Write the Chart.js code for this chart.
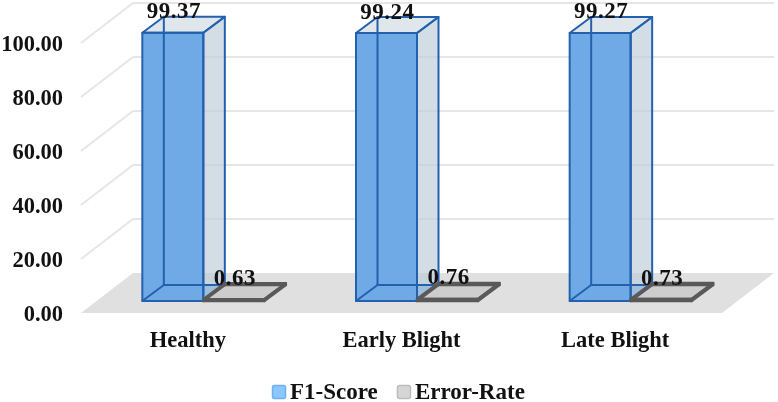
<!DOCTYPE html>
<html>
<head>
<meta charset="utf-8">
<style>
  html, body { margin: 0; background: #ffffff; }
  #wrap { width: 778px; height: 402px; }
</style>
<script src="https://cdn.jsdelivr.net/npm/chart.js@4/dist/chart.umd.js"></script>
</head>
<body>
<div id="wrap"><canvas id="chart" width="778" height="402"></canvas></div>
<script>
const categories = ["Healthy", "Early Blight", "Late Blight"];
const f1Score = [99.37, 99.24, 99.27];
const errorRate = [0.63, 0.76, 0.73];

const VALUE_FONT = "bold 23px 'Liberation Serif'";
const LEGEND_FONT = "bold 23px 'Liberation Serif'";
const AXIS_FONT = {family: "'Liberation Serif'", size: 22.5, weight: "bold"};
const TEXT = "#111111";

// the y tick labels sit a little below the wall lines they belong to
const TICK_DROP = 2;

// floor and wall depth, then where the bars sit inside that depth
const WALL_DX = 52, WALL_DY = -40;
const BAR_SHIFT_X = 15.5, BAR_SHIFT_Y = -12 - TICK_DROP;
const BAR_DX = 21.5, BAR_DY = -16;

function polygon(ctx, pts, fill, stroke, lineWidth) {
  ctx.beginPath();
  pts.forEach((p, i) => i ? ctx.lineTo(p[0], p[1]) : ctx.moveTo(p[0], p[1]));
  ctx.closePath();
  if (fill) {
    ctx.fillStyle = fill;
    ctx.fill();
  }
  if (stroke) {
    ctx.strokeStyle = stroke;
    ctx.lineWidth = lineWidth;
    ctx.lineJoin = "round";
    ctx.stroke();
  }
}

function line(ctx, x1, y1, x2, y2) {
  ctx.beginPath();
  ctx.moveTo(x1, y1);
  ctx.lineTo(x2, y2);
  ctx.stroke();
}

function drawWalls(chart) {
  const {ctx, chartArea: area, scales: {y}} = chart;
  const floorY = y.getPixelForValue(0) - TICK_DROP;
  polygon(ctx, [
    [area.left, floorY],
    [area.left + WALL_DX, floorY + WALL_DY],
    [area.right + WALL_DX, floorY + WALL_DY],
    [area.right, floorY]
  ], "#e0e0e0");

  ctx.strokeStyle = "#e6e6e6";
  ctx.lineWidth = 2;
  y.ticks.forEach(t => {
    if (t.value === 0) return;
    const py = y.getPixelForValue(t.value) - TICK_DROP;
    line(ctx, area.left, py, area.left + WALL_DX, py + WALL_DY);
    line(ctx, area.left + WALL_DX, py + WALL_DY, area.right + WALL_DX, py + WALL_DY);
  });
}

function drawBox(ctx, bar, style) {
  const l = bar.x - bar.width / 2 + BAR_SHIFT_X;
  const r = bar.x + bar.width / 2 + BAR_SHIFT_X;
  const t = bar.y + BAR_SHIFT_Y;
  const b = bar.base + BAR_SHIFT_Y;
  const dx = BAR_DX, dy = BAR_DY;

  polygon(ctx, [[l, b], [l + dx, b + dy], [r + dx, b + dy], [r, b]], style.floor);
  polygon(ctx, [[r, t], [r + dx, t + dy], [r + dx, b + dy], [r, b]], style.side);
  polygon(ctx, [[l, t], [l + dx, t + dy], [r + dx, t + dy], [r, t]], style.top);
  polygon(ctx, [[l, t], [r, t], [r, b], [l, b]], style.front);

  // all twelve edges stay visible through the faces
  ctx.strokeStyle = style.edge;
  ctx.lineWidth = style.edgeWidth;
  ctx.lineJoin = "round";
  ctx.lineCap = "round";
  line(ctx, l + dx, t + dy, l + dx, b + dy);
  line(ctx, l, b, l + dx, b + dy);
  line(ctx, l + dx, b + dy, r + dx, b + dy);
  polygon(ctx, [[l, t], [r, t], [r, b], [l, b]], null, style.edge, style.edgeWidth);
  polygon(ctx, [[l, t], [l + dx, t + dy], [r + dx, t + dy], [r, t]], null, style.edge, style.edgeWidth);
  polygon(ctx, [[r, t], [r + dx, t + dy], [r + dx, b + dy], [r, b]], null, style.edge, style.edgeWidth);
}

const boxStyles = [
  {front: "#6faae6", floor: "#5f9fdf", side: "rgba(190,205,218,0.68)", top: "#dfe7ec", edge: "#2361ae", edgeWidth: 2},
  {front: "#cdcdcd", floor: "#cdcdcd", side: "#cdcdcd", top: "#cdcdcd", edge: "#595959", edgeWidth: 2.5}
];

function drawLegend(chart) {
  const ctx = chart.ctx;
  const items = [
    {x: 272, textX: 290},
    {x: 397, textX: 415}
  ];
  ctx.font = LEGEND_FONT;
  ctx.textAlign = "left";
  ctx.textBaseline = "alphabetic";
  chart.data.datasets.forEach((ds, i) => {
    ctx.fillStyle = ds.backgroundColor;
    ctx.strokeStyle = ds.borderColor;
    ctx.lineWidth = 1.5;
    ctx.beginPath();
    ctx.roundRect(items[i].x + 0.5, 385.5, 13, 13, 2);
    ctx.fill();
    ctx.stroke();
    ctx.fillStyle = TEXT;
    ctx.fillText(ds.label, items[i].textX, 399);
  });
}

const boxes3d = {
  id: "boxes3d",
  beforeDatasetsDraw: drawWalls,
  // the flat rectangles are replaced by the boxes drawn below
  beforeDatasetDraw: () => false,
  afterDatasetsDraw(chart) {
    const ctx = chart.ctx;
    ctx.save();
    const metas = chart.data.datasets.map((d, i) => chart.getDatasetMeta(i));
    categories.forEach((c, i) => {
      metas.forEach((meta, d) => drawBox(ctx, meta.data[i], boxStyles[d]));
    });
    ctx.font = VALUE_FONT;
    ctx.letterSpacing = "0.5px";
    ctx.fillStyle = TEXT;
    ctx.textAlign = "center";
    ctx.textBaseline = "alphabetic";
    metas.forEach((meta, d) => {
      meta.data.forEach((bar, i) => {
        const value = chart.data.datasets[d].data[i];
        ctx.fillText(value.toFixed(2), bar.x + BAR_SHIFT_X + 1, bar.y + BAR_SHIFT_Y - 14.5);
      });
    });
    ctx.letterSpacing = "0px";
    drawLegend(chart);
    ctx.restore();
  }
};

new Chart(document.getElementById("chart"), {
  type: "bar",
  data: {
    labels: categories,
    datasets: [
      {label: "F1-Score", data: f1Score, backgroundColor: "#8cc7fb", borderColor: "#6db1f2"},
      {label: "Error-Rate", data: errorRate, backgroundColor: "#d6d6d6", borderColor: "#bdbdbd"}
    ]
  },
  options: {
    responsive: false,
    animation: false,
    categoryPercentage: 0.571,
    barPercentage: 1,
    layout: {padding: {left: 0, right: 56, top: 43 + TICK_DROP, bottom: 0}},
    plugins: {legend: {display: false}, tooltip: {enabled: false}},
    scales: {
      x: {
        grid: {display: false},
        border: {display: false},
        afterFit(scale) { scale.height = 89 - TICK_DROP; },
        ticks: {font: AXIS_FONT, color: TEXT, padding: 5, maxRotation: 0}
      },
      y: {
        min: 0,
        max: 100,
        grid: {display: false},
        border: {display: false},
        afterFit(scale) { scale.width = 81; },
        ticks: {
          stepSize: 20,
          font: AXIS_FONT,
          color: TEXT,
          padding: 10,
          callback: v => v.toFixed(2)
        }
      }
    }
  },
  plugins: [boxes3d]
});
</script>
</body>
</html>
